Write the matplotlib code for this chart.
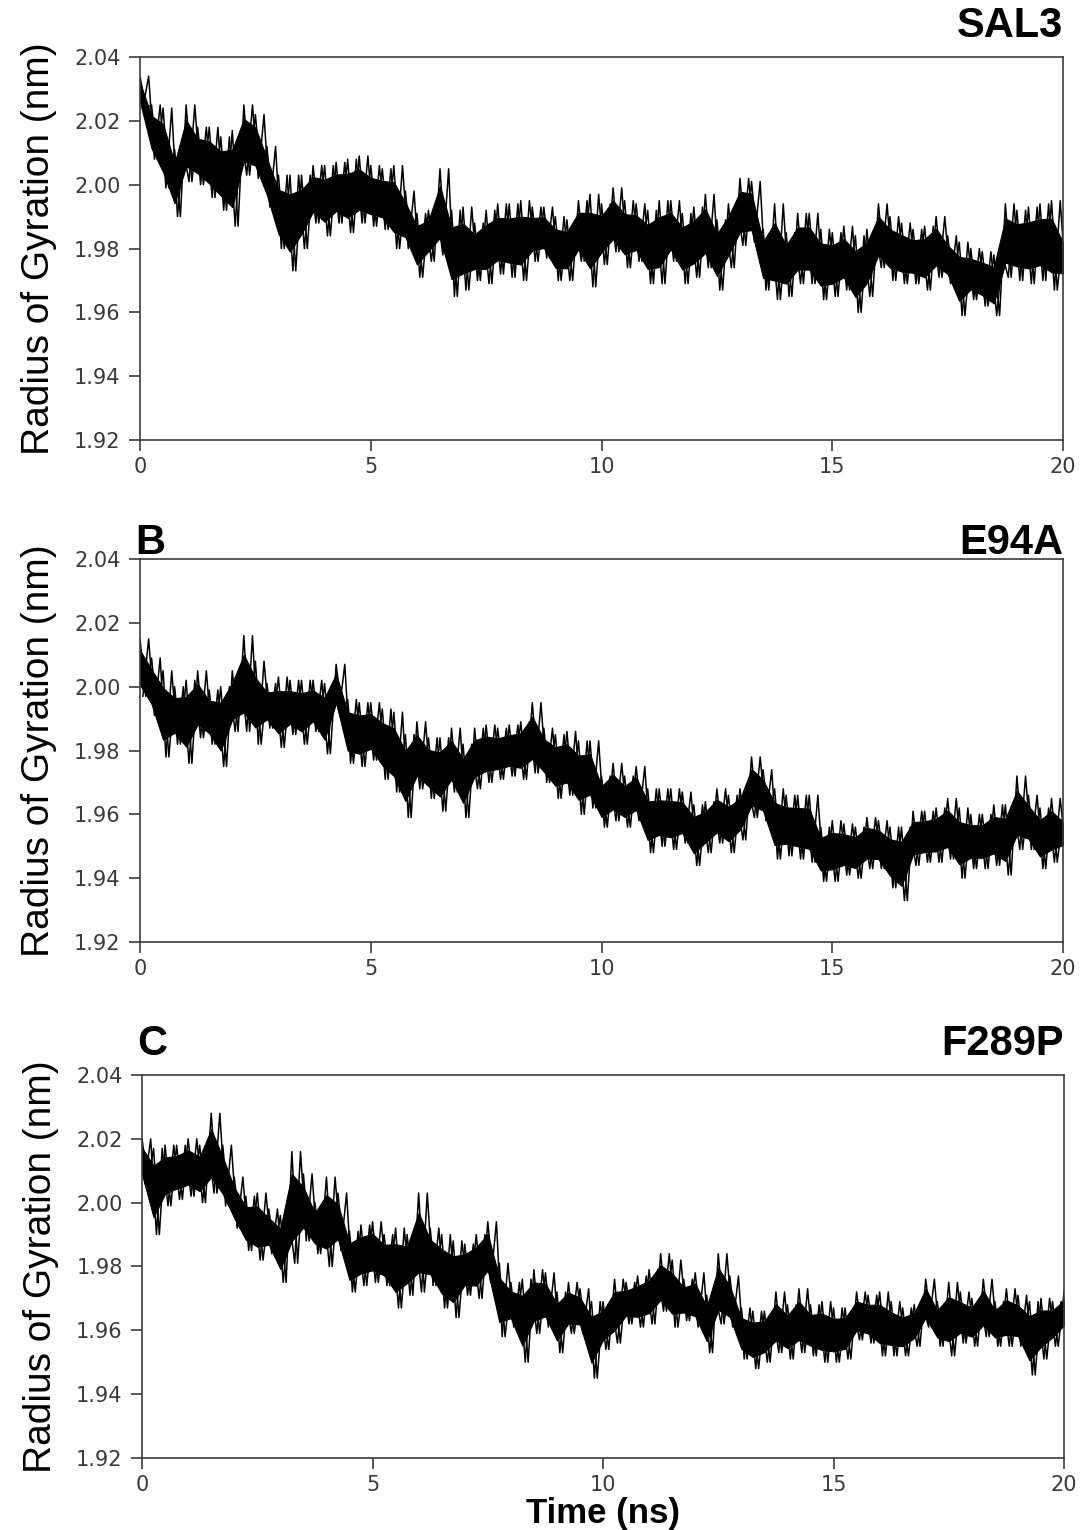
import matplotlib
matplotlib.use("Agg")
import matplotlib.pyplot as plt
import numpy as np

# time grid of the read-off samples (ns)
time_ns = np.linspace(0, 20, 81)

# upper / lower extent of the trace read at each 0.25 ns (nm)
sal3_hi = [2.034, 2.025, 2.024, 2.011, 2.025, 2.018, 2.018, 2.015, 2.017, 2.025,
           2.022, 2.012, 2.003, 2.003, 2.003, 2.006, 2.006, 2.007, 2.008, 2.009,
           2.006, 2.005, 2.006, 1.998, 1.991, 1.992, 2.005, 1.992, 1.993, 1.988,
           1.992, 1.994, 1.994, 1.995, 1.993, 1.993, 1.990, 1.989, 1.995, 1.997,
           1.994, 1.999, 1.995, 1.994, 1.992, 1.995, 1.995, 1.991, 1.993, 1.997,
           1.989, 1.994, 2.002, 2.001, 1.986, 1.994, 1.985, 1.991, 1.991, 1.986,
           1.985, 1.987, 1.984, 1.986, 1.994, 1.990, 1.988, 1.986, 1.987, 1.990,
           1.984, 1.982, 1.980, 1.979, 1.978, 1.994, 1.992, 1.993, 1.994, 1.995,
           1.985]
sal3_lo = [2.024, 2.008, 1.999, 1.990, 2.001, 2.000, 1.996, 1.992, 1.987, 2.003,
           2.002, 1.993, 1.980, 1.973, 1.980, 1.988, 1.984, 1.988, 1.985, 1.988,
           1.987, 1.986, 1.980, 1.980, 1.971, 1.976, 1.978, 1.965, 1.967, 1.970,
           1.969, 1.972, 1.971, 1.970, 1.976, 1.977, 1.970, 1.970, 1.976, 1.968,
           1.975, 1.979, 1.974, 1.976, 1.969, 1.969, 1.976, 1.969, 1.971, 1.974,
           1.967, 1.974, 1.981, 1.982, 1.967, 1.964, 1.965, 1.969, 1.969, 1.964,
           1.965, 1.967, 1.960, 1.965, 1.974, 1.970, 1.969, 1.969, 1.967, 1.971,
           1.969, 1.959, 1.964, 1.962, 1.959, 1.971, 1.970, 1.969, 1.970, 1.967,
           1.969]

e94a_hi = [2.015, 2.009, 2.005, 2.000, 2.002, 2.005, 1.999, 2.000, 2.005, 2.016,
           2.008, 2.001, 2.003, 2.002, 2.002, 2.002, 2.001, 2.007, 1.996, 1.995,
           1.995, 1.993, 1.992, 1.985, 1.989, 1.984, 1.984, 1.987, 1.982, 1.987,
           1.988, 1.987, 1.988, 1.989, 1.995, 1.987, 1.985, 1.986, 1.983, 1.983,
           1.972, 1.976, 1.972, 1.975, 1.968, 1.968, 1.968, 1.967, 1.963, 1.964,
           1.968, 1.966, 1.968, 1.978, 1.974, 1.968, 1.966, 1.966, 1.966, 1.956,
           1.958, 1.957, 1.956, 1.959, 1.958, 1.956, 1.956, 1.961, 1.961, 1.962,
           1.965, 1.962, 1.960, 1.960, 1.963, 1.963, 1.972, 1.966, 1.962, 1.965,
           1.960]
e94a_lo = [1.997, 1.991, 1.978, 1.982, 1.976, 1.984, 1.982, 1.975, 1.986, 1.986,
           1.982, 1.987, 1.981, 1.985, 1.982, 1.986, 1.979, 1.992, 1.976, 1.975,
           1.977, 1.971, 1.967, 1.959, 1.968, 1.965, 1.961, 1.967, 1.959, 1.968,
           1.970, 1.971, 1.972, 1.971, 1.973, 1.970, 1.965, 1.966, 1.960, 1.962,
           1.956, 1.958, 1.956, 1.958, 1.948, 1.950, 1.949, 1.951, 1.944, 1.948,
           1.951, 1.948, 1.952, 1.959, 1.958, 1.946, 1.947, 1.946, 1.945, 1.939,
           1.939, 1.941, 1.940, 1.943, 1.943, 1.937, 1.933, 1.944, 1.945, 1.945,
           1.946, 1.940, 1.943, 1.943, 1.944, 1.941, 1.949, 1.949, 1.943, 1.945,
           1.948]

f289p_hi = [2.020, 2.017, 2.018, 2.018, 2.020, 2.018, 2.028, 2.018, 2.008, 2.002,
            2.003, 1.998, 1.996, 2.016, 2.009, 2.000, 2.008, 2.003, 1.991, 1.993,
            1.994, 1.990, 1.992, 1.990, 2.003, 1.992, 1.990, 1.988, 1.987, 1.990,
            1.994, 1.981, 1.975, 1.976, 1.979, 1.978, 1.972, 1.975, 1.973, 1.969,
            1.969, 1.976, 1.975, 1.977, 1.979, 1.984, 1.982, 1.976, 1.978, 1.971,
            1.984, 1.977, 1.967, 1.966, 1.966, 1.972, 1.968, 1.973, 1.968, 1.969,
            1.967, 1.967, 1.972, 1.971, 1.972, 1.969, 1.967, 1.968, 1.976, 1.969,
            1.975, 1.972, 1.970, 1.976, 1.969, 1.973, 1.971, 1.969, 1.970, 1.969,
            1.972]
f289p_lo = [2.006, 1.990, 1.999, 2.001, 2.002, 2.000, 2.003, 1.999, 1.992, 1.985,
            1.982, 1.984, 1.975, 1.981, 1.988, 1.984, 1.980, 1.985, 1.972, 1.974,
            1.975, 1.974, 1.967, 1.971, 1.972, 1.974, 1.967, 1.964, 1.971, 1.970,
            1.975, 1.958, 1.961, 1.950, 1.959, 1.961, 1.953, 1.959, 1.959, 1.945,
            1.954, 1.956, 1.962, 1.961, 1.962, 1.966, 1.961, 1.963, 1.961, 1.953,
            1.962, 1.961, 1.951, 1.948, 1.950, 1.953, 1.951, 1.953, 1.952, 1.950,
            1.950, 1.951, 1.957, 1.956, 1.952, 1.952, 1.952, 1.955, 1.961, 1.955,
            1.952, 1.956, 1.955, 1.958, 1.955, 1.955, 1.955, 1.946, 1.951, 1.955,
            1.959]

panel_letters = ["", "B", "C"]
panel_names = ["SAL3", "E94A", "F289P"]
series = [(sal3_hi, sal3_lo), (e94a_hi, e94a_lo), (f289p_hi, f289p_lo)]

plt.rcParams["font.family"] = ["Liberation Sans", "DejaVu Sans"]

fig = plt.figure(figsize=(10.81, 15.30), dpi=100)
boxes = [
    [0.1295, 0.7124, 0.8539, 0.2503],
    [0.1295, 0.3843, 0.8539, 0.2503],
    [0.1314, 0.0471, 0.8529, 0.2503],
]
title_gap_px = [20, 5, 20]

for box, letter, name, (hi, lo), gap in zip(boxes, panel_letters, panel_names,
                                            series, title_gap_px):
    ax = fig.add_axes(box)
    hi = np.asarray(hi)
    lo = np.asarray(lo)
    span = hi - lo
    # dense middle of the noisy band
    ax.fill_between(time_ns, lo + 0.2 * span, hi - 0.2 * span,
                    color="black", lw=0.8, edgecolor="black")
    # spikes: alternate upper and lower extents, two offset passes
    step = time_ns[1] - time_ns[0]
    xs = np.column_stack([time_ns, time_ns + step / 2]).ravel()[:-1]
    ax.plot(xs, np.column_stack([hi, lo]).ravel()[:-1], color="black", lw=1.1)
    ax.plot(xs + step / 4, np.column_stack([lo, hi]).ravel()[:-1],
            color="black", lw=1.1)

    ax.set_xlim(0, 20)
    ax.set_ylim(1.92, 2.04)
    ax.set_xticks([0, 5, 10, 15, 20])
    yt = np.arange(1.92, 2.041, 0.02)
    ax.set_yticks(yt)
    ax.set_yticklabels([f"{v:.2f}" for v in yt])
    ax.tick_params(direction="out", length=8, width=1.2, color="#3c3c3c",
                   labelsize=15, labelcolor="#3a3a3a", top=False, right=False)
    ax.tick_params(axis="y", pad=6)
    ax.tick_params(axis="x", pad=4)
    for lab in ax.get_xticklabels() + ax.get_yticklabels():
        lab.set_family("DejaVu Sans")
    for sp in ax.spines.values():
        sp.set_color("#3c3c3c")
        sp.set_linewidth(1.2)
    ax.set_ylabel("Radius of Gyration (nm)", fontsize=28, labelpad=12)
    off = gap / (box[3] * 1530)
    ax.text(1.0, 1.0 + off, name, transform=ax.transAxes, ha="right",
            va="baseline", fontsize=30, fontweight="bold")
    if letter:
        ax.text(-0.005, 1.0 + off, letter, transform=ax.transAxes, ha="left",
                va="baseline", fontsize=30, fontweight="bold")

ax.set_xlabel("Time (ns)", fontsize=25, fontweight="bold", labelpad=2)

fig.savefig("out.png", dpi=100)
